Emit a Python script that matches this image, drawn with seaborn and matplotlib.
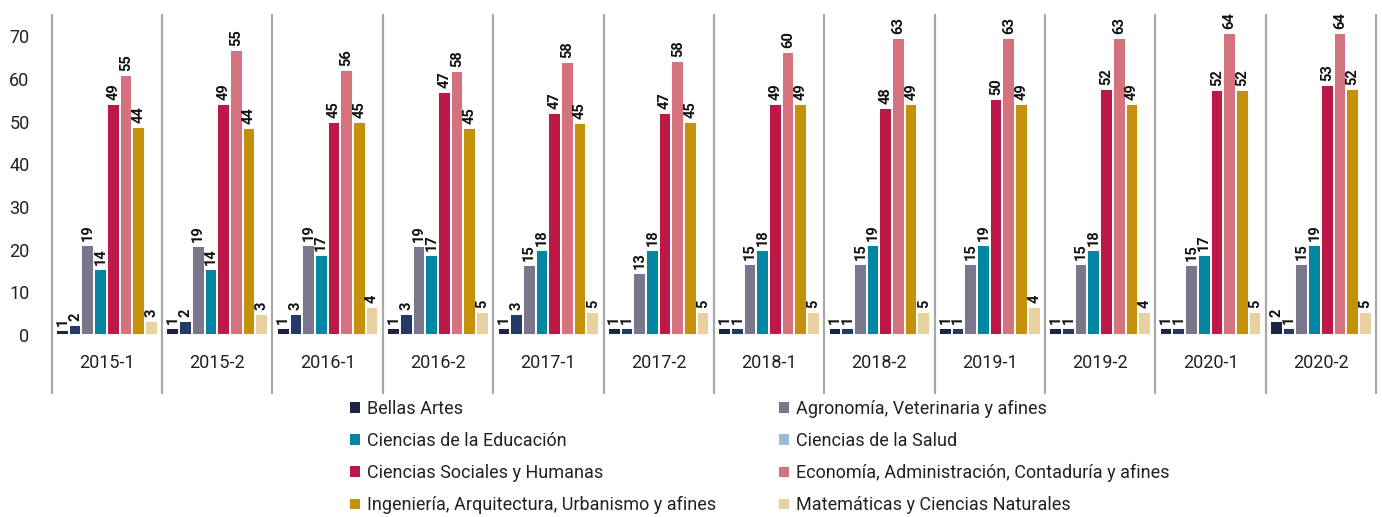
import pandas as pd
import matplotlib.pyplot as plt
import seaborn as sns
from matplotlib.patches import Patch

periodos = ['2015-1', '2015-2', '2016-1', '2016-2', '2017-1', '2017-2',
            '2018-1', '2018-2', '2019-1', '2019-2', '2020-1', '2020-2']

# series in the order the bars are drawn inside each period
series = ['Bellas Artes', 'Ciencias de la Salud', 'Agronomía, Veterinaria y afines',
          'Ciencias de la Educación', 'Ciencias Sociales y Humanas',
          'Economía, Administración, Contaduría y afines',
          'Ingeniería, Arquitectura, Urbanismo y afines', 'Matemáticas y Ciencias Naturales']

# bar heights as drawn
alturas = {
    'Bellas Artes': [1.2, 1.6, 1.6, 1.6, 1.6, 1.6, 1.6, 1.6, 1.6, 1.6, 1.6, 3.3],
    'Ciencias de la Salud': [2.3, 3.3, 4.9, 4.9, 4.9, 1.6, 1.6, 1.6, 1.6, 1.6, 1.6, 1.6],
    'Agronomía, Veterinaria y afines': [21.1, 20.8, 21.1, 20.8, 16.4, 14.5, 16.6, 16.6, 16.6, 16.6, 16.4, 16.6],
    'Ciencias de la Educación': [15.5, 15.5, 18.7, 18.7, 19.9, 19.9, 19.9, 21.1, 21.1, 19.9, 18.7, 21.1],
    'Ciencias Sociales y Humanas': [54.1, 54.1, 49.9, 56.9, 52.0, 52.0, 54.1, 53.2, 55.3, 57.6, 57.4, 58.5],
    'Economía, Administración, Contaduría y afines': [60.9, 66.7, 62.1, 61.8, 63.9, 64.2, 66.3, 69.6, 69.6, 69.6, 70.7, 70.7],
    'Ingeniería, Arquitectura, Urbanismo y afines': [48.7, 48.5, 49.9, 48.5, 49.6, 49.9, 54.1, 54.1, 54.1, 54.1, 57.4, 57.6],
    'Matemáticas y Ciencias Naturales': [3.3, 4.9, 6.6, 5.4, 5.4, 5.4, 5.4, 5.4, 6.6, 5.4, 5.4, 5.4],
}

# numbers printed above the bars
etiquetas = {
    'Bellas Artes': [1, 1, 1, 1, 1, 1, 1, 1, 1, 1, 1, 2],
    'Ciencias de la Salud': [2, 2, 3, 3, 3, 1, 1, 1, 1, 1, 1, 1],
    'Agronomía, Veterinaria y afines': [19, 19, 19, 19, 15, 13, 15, 15, 15, 15, 15, 15],
    'Ciencias de la Educación': [14, 14, 17, 17, 18, 18, 18, 19, 19, 18, 17, 19],
    'Ciencias Sociales y Humanas': [49, 49, 45, 47, 47, 47, 49, 48, 50, 52, 52, 53],
    'Economía, Administración, Contaduría y afines': [55, 55, 56, 58, 58, 58, 60, 63, 63, 63, 64, 64],
    'Ingeniería, Arquitectura, Urbanismo y afines': [44, 44, 45, 45, 45, 45, 49, 49, 49, 49, 52, 52],
    'Matemáticas y Ciencias Naturales': [3, 3, 4, 5, 5, 5, 5, 5, 4, 4, 5, 5],
}

colores_barras = ['#1d2342', '#223a64', '#7a778d', '#0386a2',
                  '#bc1848', '#d4737d', '#c5900a', '#e8d0a0']

# legend entries (row by row) and their swatch colours
leyenda = ['Bellas Artes', 'Agronomía, Veterinaria y afines',
           'Ciencias de la Educación', 'Ciencias de la Salud',
           'Ciencias Sociales y Humanas', 'Economía, Administración, Contaduría y afines',
           'Ingeniería, Arquitectura, Urbanismo y afines', 'Matemáticas y Ciencias Naturales']
colores_leyenda = ['#1d2342', '#7a778d', '#0386a2', '#9bbdcf',
                   '#bc1848', '#d4737d', '#c5900a', '#e8d0a0']

rows = []
for s in series:
    for p, h in zip(periodos, alturas[s]):
        rows.append({'Periodo': p, 'Area': s, 'Valor': h})
df = pd.DataFrame(rows)

sns.set_style('white')
plt.rcParams['font.family'] = ['Roboto', 'DejaVu Sans']

fig = plt.figure(figsize=(13.82, 5.17), dpi=100)
ax = fig.add_axes([0.0374, 0.352, 0.9583, 0.619])

sns.barplot(data=df, x='Periodo', y='Valor', hue='Area', order=periodos,
            hue_order=series, palette=colores_barras, width=0.92, saturation=1,
            edgecolor='white', linewidth=1.4, legend=False, ax=ax)

for cont, s in zip(ax.containers, series):
    ax.bar_label(cont, labels=[str(v) for v in etiquetas[s]], rotation=90,
                 padding=3, fontsize=10.5, fontweight='bold', color='#111111')

ax.set_ylim(0, 75)
ax.set_xlim(-0.5, len(periodos) - 0.5)
ax.set_yticks(range(0, 80, 10))
ax.set_xlabel('')
ax.set_ylabel('')
ax.tick_params(axis='y', length=0, pad=16, labelsize=13, labelcolor='#222222')
ax.tick_params(axis='x', length=0, pad=14, labelsize=13, labelcolor='#222222')
for sp in ax.spines.values():
    sp.set_visible(False)

for i in range(len(periodos) + 1):
    ax.axvline(i - 0.5, ymin=-0.181, ymax=1.0, color='#a8a8a8', lw=1.6, clip_on=False)

h = [Patch(facecolor=c, edgecolor='none') for c in colores_leyenda]
col1 = [0, 2, 4, 6]
col2 = [1, 3, 5, 7]
for idx, x0 in ((col1, 350 / 1382), (col2, 779 / 1382)):
    fig.legend([h[i] for i in idx], [leyenda[i] for i in idx], loc='upper left',
               bbox_to_anchor=(x0, 1 - 400 / 517), frameon=False, fontsize=13,
               handlelength=0.55, handleheight=0.55, handletextpad=0.4,
               labelspacing=0.78, borderpad=0, borderaxespad=0, labelcolor='#222222')

fig.savefig('out.png', dpi=100)
